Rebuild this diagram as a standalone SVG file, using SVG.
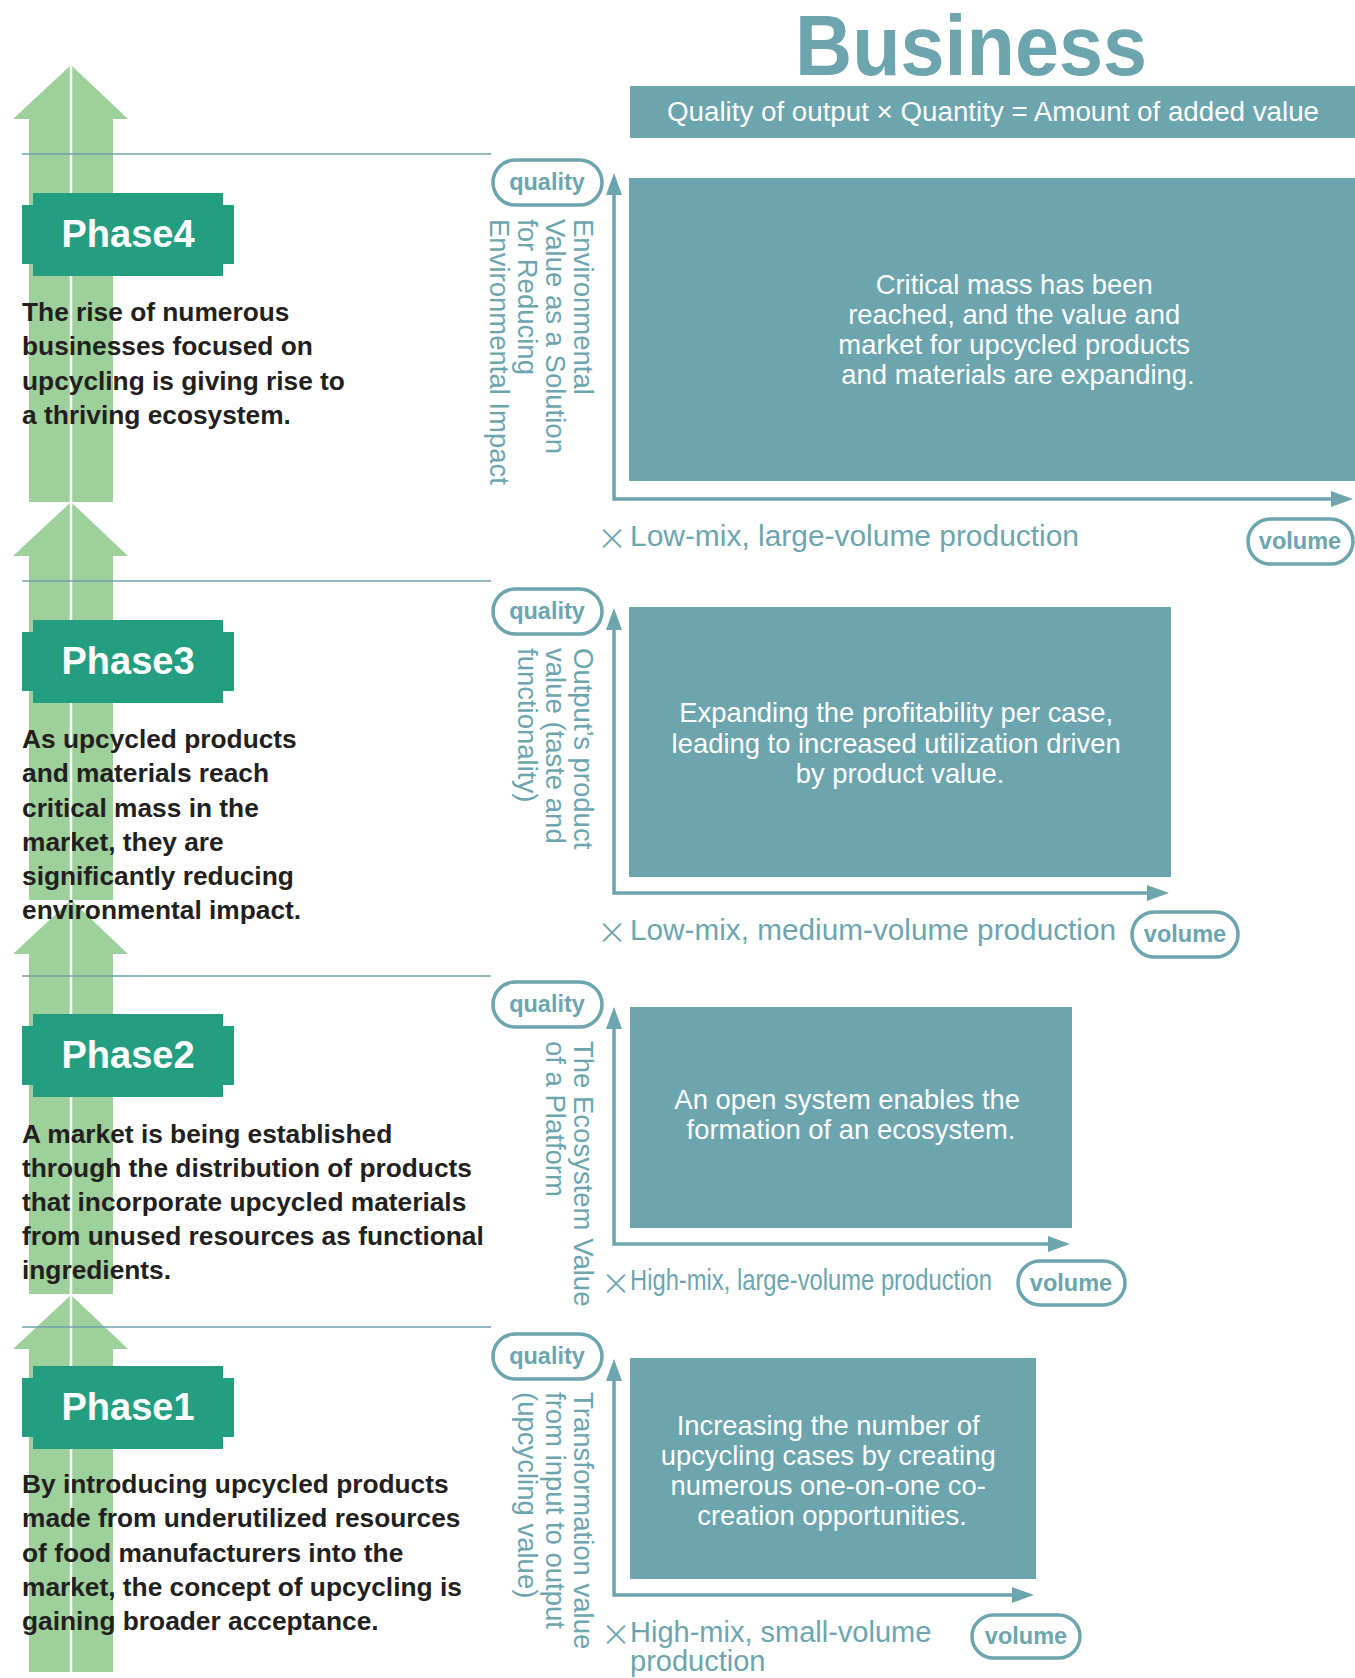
<svg xmlns="http://www.w3.org/2000/svg" width="1355" height="1678" viewBox="0 0 1355 1678">
  <style>
    .bg { fill: #ffffff; }
    .grow { fill: #9dd09b; }
    .spine { stroke: #ffffff; stroke-width: 2.5; }
    .rule { stroke: #6fa2ad; stroke-width: 1.6; }
    .phase-box { fill: #249e80; }
    .phase-label { font-family: "Liberation Sans", Arial, sans-serif; font-weight: bold; font-size: 38px; fill: #ffffff; text-anchor: middle; }
    .desc { font-family: "Liberation Sans", Arial, sans-serif; font-weight: bold; font-size: 26.3px; fill: #231f20; }
    .panel { fill: #6ca5ae; }
    .panel-text { font-family: "Liberation Sans", Arial, sans-serif; font-size: 27.4px; fill: #ffffff; text-anchor: middle; }
    .axis { fill: none; stroke: #6ca5ae; stroke-width: 3.5; marker-start: url(#tip-start); marker-end: url(#tip-end); }
    .pill { fill: #ffffff; stroke: #6ca5ae; stroke-width: 3.5; }
    .pill-text { font-family: "Liberation Sans", Arial, sans-serif; font-weight: bold; font-size: 23.5px; fill: #6ca5ae; text-anchor: middle; }
    .vlabel { font-family: "Liberation Sans", Arial, sans-serif; font-size: 27.5px; fill: #6ca5ae; }
    .xlabel { font-family: "Liberation Sans", Arial, sans-serif; font-size: 29px; fill: #6ca5ae; }
    .times { font-family: Inter, "Liberation Sans", sans-serif; font-weight: 200; font-size: 44px; fill: #6ca5ae; text-anchor: middle; }
    .title { font-family: "Liberation Sans", Arial, sans-serif; font-weight: bold; font-size: 86px; fill: #6ca5ae; }
    .banner-text { font-family: "Liberation Sans", Arial, sans-serif; font-size: 27px; fill: #ffffff; text-anchor: middle; }
  </style>
  <defs>
    <marker id="tip-end" markerUnits="userSpaceOnUse" markerWidth="24" markerHeight="18" refX="12" refY="8" orient="auto">
      <path d="M0,0 L22,8 L0,16 Z" fill="#6ca5ae"/>
    </marker>
    <marker id="tip-start" markerUnits="userSpaceOnUse" markerWidth="24" markerHeight="18" refX="12" refY="8" orient="auto-start-reverse">
      <path d="M0,0 L22,8 L0,16 Z" fill="#6ca5ae"/>
    </marker>
    <!-- notched label plate, 212 x 83 -->
    <path id="plate" d="M11,0 H201 V12 H212 V71 H201 V83 H11 V71 H0 V12 H11 Z"/>
  </defs>

  <rect class="bg" x="0" y="0" width="1355" height="1678"/>

  <!-- upward growth arrows along the left edge -->
  <g id="growth-arrows">
    <polygon class="grow" points="71,65 128,119 113,119 113,502 29,502 29,119 13,119"/>
    <polygon class="grow" points="71,502 128,556 113,556 113,900 29,900 29,556 13,556"/>
    <polygon class="grow" points="71,900 128,954 113,954 113,1294 29,1294 29,954 13,954"/>
    <polygon class="grow" points="71,1295 128,1349 113,1349 113,1672 29,1672 29,1349 13,1349"/>
    <line class="spine" x1="71" y1="65" x2="71" y2="1672"/>
  </g>

  <!-- phase separators -->
  <g id="separators">
    <line class="rule" x1="22" y1="154" x2="491" y2="154"/>
    <line class="rule" x1="22" y1="581" x2="491" y2="581"/>
    <line class="rule" x1="22" y1="976" x2="491" y2="976"/>
    <line class="rule" x1="22" y1="1327" x2="491" y2="1327"/>
  </g>

  <!-- heading -->
  <g id="header">
    <text class="title" x="795" y="75" textLength="352" lengthAdjust="spacingAndGlyphs">Business</text>
    <rect class="panel" x="630" y="86" width="725" height="52"/>
    <text class="banner-text" x="993" y="121" textLength="652" lengthAdjust="spacingAndGlyphs">Quality of output × Quantity = Amount of added value</text>
  </g>

  <!-- axes of the four charts -->
  <g id="connectors">
    <path class="axis" d="M614,183 V499 H1343"/>
    <path class="axis" d="M614,618 V893 H1159"/>
    <path class="axis" d="M614,1017 V1244 H1060"/>
    <path class="axis" d="M614,1369 V1595 H1024"/>
  </g>

  <!-- Phase 4 -->
  <g id="phase4">
    <use href="#plate" class="phase-box" x="22" y="193"/>
    <text class="phase-label" x="128" y="247">Phase4</text>
    <text class="desc">
      <tspan x="22" y="321">The rise of numerous</tspan>
      <tspan x="22" y="355">businesses focused on</tspan>
      <tspan x="22" y="390">upcycling is giving rise to</tspan>
      <tspan x="22" y="424">a thriving ecosystem.</tspan>
    </text>
  </g>
  <g id="chart4">
    <rect class="pill" x="493" y="160" width="109" height="45" rx="22.5"/>
    <text class="pill-text" x="547" y="190">quality</text>
    <text class="vlabel" transform="translate(574 219) rotate(90)">
      <tspan x="0" y="0">Environmental</tspan>
      <tspan x="0" y="28">Value as a Solution</tspan>
      <tspan x="0" y="56">for Reducing</tspan>
      <tspan x="0" y="84">Environmental Impact</tspan>
    </text>
    <rect class="panel" x="629" y="178" width="726" height="303"/>
    <text class="panel-text">
      <tspan x="1018" y="294">Critical mass has been</tspan>
      <tspan x="1018" y="324">reached, and the value and</tspan>
      <tspan x="1018" y="354">market for upcycled products</tspan>
      <tspan x="1018" y="384">and materials are expanding.</tspan>
    </text>
    <text class="times" x="612" y="551">×</text>
    <text class="xlabel" x="630" y="546" textLength="449" lengthAdjust="spacingAndGlyphs">Low-mix, large-volume production</text>
    <rect class="pill" x="1248" y="519" width="105" height="45" rx="22.5"/>
    <text class="pill-text" x="1300" y="549">volume</text>
  </g>

  <!-- Phase 3 -->
  <g id="phase3">
    <use href="#plate" class="phase-box" x="22" y="620"/>
    <text class="phase-label" x="128" y="674">Phase3</text>
    <text class="desc">
      <tspan x="22" y="748">As upcycled products</tspan>
      <tspan x="22" y="782">and materials reach</tspan>
      <tspan x="22" y="817">critical mass in the</tspan>
      <tspan x="22" y="851">market, they are</tspan>
      <tspan x="22" y="885">significantly reducing</tspan>
      <tspan x="22" y="919">environmental impact.</tspan>
    </text>
  </g>
  <g id="chart3">
    <rect class="pill" x="493" y="589" width="109" height="45" rx="22.5"/>
    <text class="pill-text" x="547" y="619">quality</text>
    <text class="vlabel" transform="translate(574 648) rotate(90)">
      <tspan x="0" y="0">Output’s product</tspan>
      <tspan x="0" y="28">value (taste and</tspan>
      <tspan x="0" y="56">functionality)</tspan>
    </text>
    <rect class="panel" x="629" y="607" width="542" height="270"/>
    <text class="panel-text">
      <tspan x="900" y="722">Expanding the profitability per case,</tspan>
      <tspan x="900" y="753">leading to increased utilization driven</tspan>
      <tspan x="900" y="783">by product value.</tspan>
    </text>
    <text class="times" x="612" y="945">×</text>
    <text class="xlabel" x="630" y="940" textLength="486" lengthAdjust="spacingAndGlyphs">Low-mix, medium-volume production</text>
    <rect class="pill" x="1132" y="912" width="106" height="45" rx="22.5"/>
    <text class="pill-text" x="1185" y="942">volume</text>
  </g>

  <!-- Phase 2 -->
  <g id="phase2">
    <use href="#plate" class="phase-box" x="22" y="1014"/>
    <text class="phase-label" x="128" y="1068">Phase2</text>
    <text class="desc">
      <tspan x="22" y="1143">A market is being established</tspan>
      <tspan x="22" y="1177">through the distribution of products</tspan>
      <tspan x="22" y="1211">that incorporate upcycled materials</tspan>
      <tspan x="22" y="1245">from unused resources as functional</tspan>
      <tspan x="22" y="1279">ingredients.</tspan>
    </text>
  </g>
  <g id="chart2">
    <rect class="pill" x="493" y="982" width="109" height="45" rx="22.5"/>
    <text class="pill-text" x="547" y="1012">quality</text>
    <text class="vlabel" transform="translate(574 1041) rotate(90)">
      <tspan x="0" y="0">The Ecosystem Value</tspan>
      <tspan x="0" y="28">of a Platform</tspan>
    </text>
    <rect class="panel" x="630" y="1007" width="442" height="221"/>
    <text class="panel-text">
      <tspan x="851" y="1109">An open system enables the</tspan>
      <tspan x="851" y="1139">formation of an ecosystem.</tspan>
    </text>
    <text class="times" x="616" y="1296">×</text>
    <!-- condensed label: horizontally squeezed -->
    <text class="xlabel" transform="translate(630 1290) scale(0.82 1)" x="0" y="0">High-mix, large-volume production</text>
    <rect class="pill" x="1018" y="1261" width="107" height="44" rx="22"/>
    <text class="pill-text" x="1071" y="1291">volume</text>
  </g>

  <!-- Phase 1 -->
  <g id="phase1">
    <use href="#plate" class="phase-box" x="22" y="1366"/>
    <text class="phase-label" x="128" y="1420">Phase1</text>
    <text class="desc">
      <tspan x="22" y="1493">By introducing upcycled products</tspan>
      <tspan x="22" y="1527">made from underutilized resources</tspan>
      <tspan x="22" y="1562">of food manufacturers into the</tspan>
      <tspan x="22" y="1596">market, the concept of upcycling is</tspan>
      <tspan x="22" y="1630">gaining broader acceptance.</tspan>
    </text>
  </g>
  <g id="chart1">
    <rect class="pill" x="493" y="1334" width="109" height="45" rx="22.5"/>
    <text class="pill-text" x="547" y="1364">quality</text>
    <text class="vlabel" transform="translate(574 1392) rotate(90)">
      <tspan x="0" y="0">Transformation value</tspan>
      <tspan x="0" y="28">from input to output</tspan>
      <tspan x="0" y="56">(upcycling value)</tspan>
    </text>
    <rect class="panel" x="630" y="1358" width="406" height="221"/>
    <text class="panel-text">
      <tspan x="832" y="1435">Increasing the number of</tspan>
      <tspan x="832" y="1465">upcycling cases by creating</tspan>
      <tspan x="832" y="1495">numerous one-on-one co-</tspan>
      <tspan x="832" y="1525">creation opportunities.</tspan>
    </text>
    <text class="times" x="616" y="1647">×</text>
    <text class="xlabel">
      <tspan x="630" y="1642">High-mix, small-volume</tspan>
      <tspan x="630" y="1671">production</tspan>
    </text>
    <rect class="pill" x="972" y="1615" width="108" height="43" rx="21.5"/>
    <text class="pill-text" x="1026" y="1644">volume</text>
  </g>
</svg>
